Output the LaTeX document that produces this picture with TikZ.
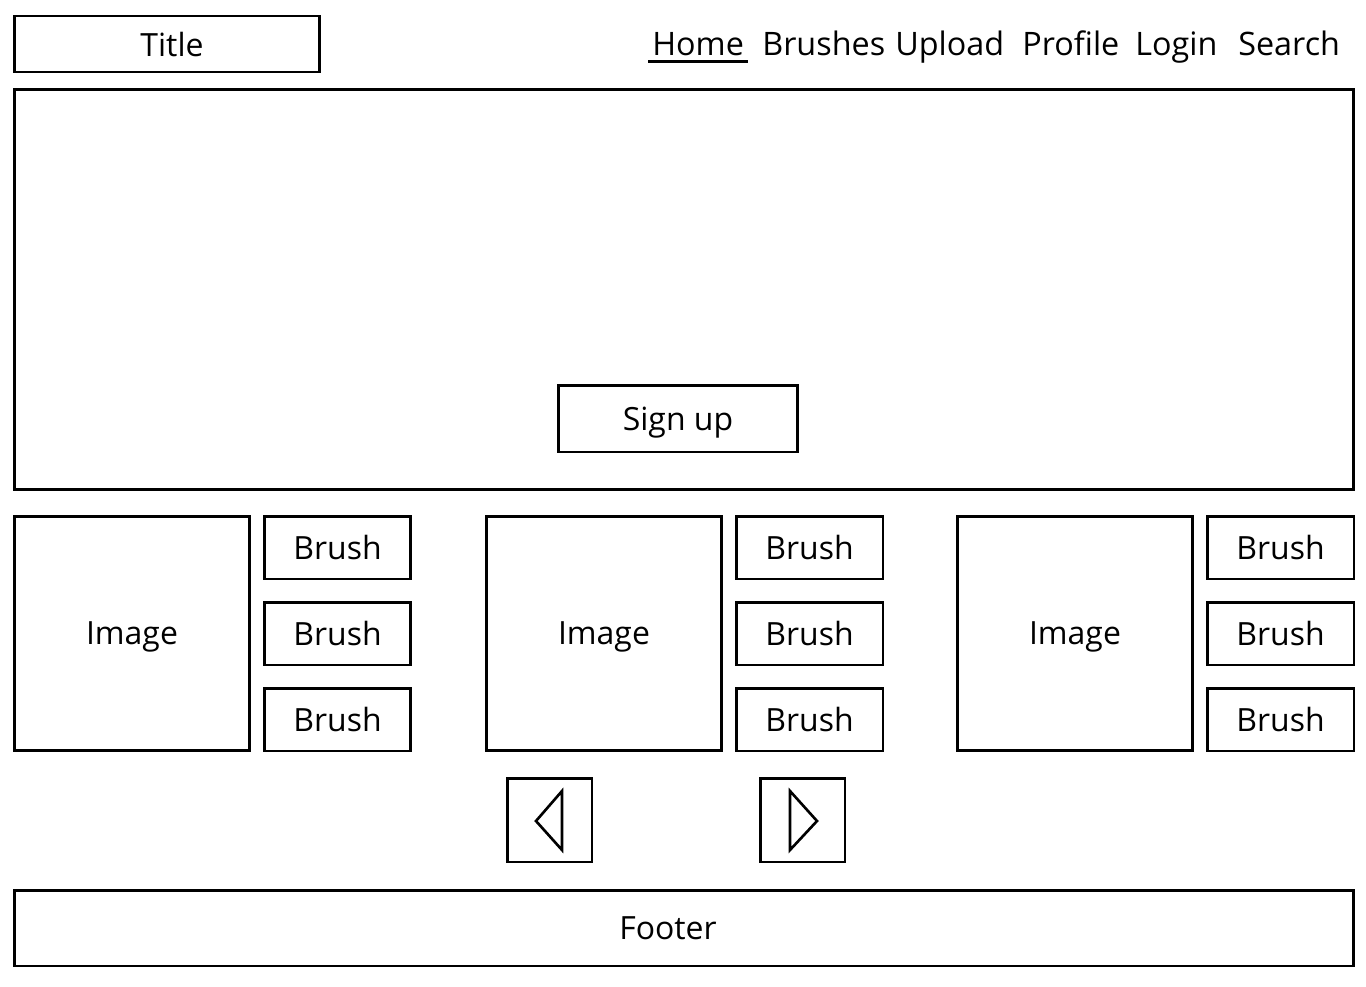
\documentclass[tikz,border=0pt]{standalone}
\usepackage{fontspec}
\setmainfont{Open Sans}
\usepackage{tikz}
\usetikzlibrary{calc}

\tikzset{
  box/.style={draw,line width=1.7pt,inner sep=0pt,text depth=0pt,font=\fontsize{18.2}{21}\selectfont},
  navitem/.style={anchor=base west,inner sep=0pt,font=\fontsize{18.4}{21}\selectfont},
}

\begin{document}
\begin{tikzpicture}[x=0.02cm,y=-0.02cm]
\useasboundingbox (0,0) rectangle (1366,987);
% header
\node (title) [box,minimum width=6.12cm,minimum height=1.12cm] at (167,44) {\hspace*{0.2cm}Title};
\node (home) [navitem,inner xsep=0.08cm,inner ysep=0.12cm] at (648,55) {Home};
\node (brushes) [navitem] at (762,55) {Brushes};
\node (upload) [navitem] at (895,55) {Upload};
\node (profile) [navitem] at (1022,55) {Profile};
\node (login) [navitem] at (1135,55) {Login};
\node (search) [navitem] at (1238,55) {Search};
\draw [line width=1.7pt] (home.south west) -- (home.south east);
% hero
\node (hero) [box,minimum width=26.8cm,minimum height=8.02cm] at (684,289.5) {};
\node (signup) [box,minimum width=4.8cm,minimum height=1.34cm] at (678,418.5) {Sign up};
% gallery
\foreach \n/\x/\bx in {1/132/337.5,2/604/809.5,3/1075/1280.5} {
  \node (img\n) [box,minimum width=4.72cm,minimum height=4.7cm] at (\x,633.5) {Image};
  \foreach \m/\y in {1/547.5,2/633.5,3/719.5}
    \node (brush\n\m) [box,minimum width=2.94cm,minimum height=1.26cm] at (\bx,\y) {Brush};
}
% paging
\node (prev) [box,minimum width=1.7cm,minimum height=1.68cm] at (549.5,820) {};
\node (next) [box,minimum width=1.7cm,minimum height=1.68cm] at (802.5,820) {};
\draw [line width=1.5pt,line join=miter] (536,821) -- (562,791) -- (562,850) -- cycle;
\draw [line width=1.5pt,line join=miter] (817,821) -- (790,791) -- (790,850) -- cycle;
% footer
\node (footer) [box,minimum width=26.8cm,minimum height=1.52cm] at (684,928) {Footer\hspace*{0.64cm}};
\end{tikzpicture}
\end{document}
